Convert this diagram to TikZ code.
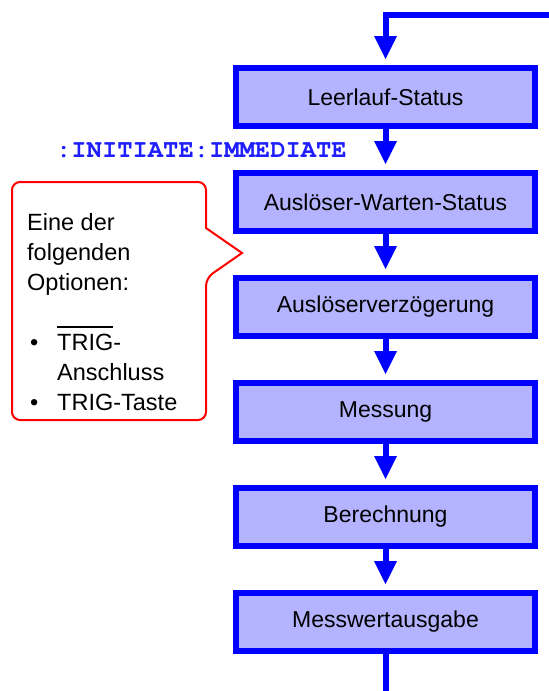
\documentclass[tikz,border=0pt]{standalone}
\usepackage{fontspec}
\setmainfont{Liberation Sans}
\newfontfamily\cmdfont{TeX Gyre Cursor}
\usetikzlibrary{arrows.meta,positioning}

\definecolor{boxfill}{RGB}{179,179,255}
\definecolor{cmdblue}{RGB}{30,30,255}

% bar over a word
\newsavebox\ovlbox
\newcommand{\ovltext}[1]{\sbox\ovlbox{#1}\rlap{\rule[22pt]{\wd\ovlbox}{1.8pt}}\usebox\ovlbox}
\newcommand{\bul}{\makebox[30pt][l]{\hspace{3pt}\textbullet}}

\begin{document}
\begin{tikzpicture}[x=1pt,y=-1pt,>={Triangle[width=23pt,length=23pt,line width=0pt]},
    state/.style={draw=blue,line width=6pt,fill=boxfill,minimum width=299pt,minimum height=58pt,
        inner sep=0pt,font=\fontsize{23}{28}\selectfont},
    flow/.style={->,blue,line width=6pt,line join=miter,shorten >=6pt}]
    \useasboundingbox (0,0) rectangle (549,691);

    % States
    \node[state] (idle) at (385.5,97) {Leerlauf-Status};
    \node[state,below=41pt of idle] (wait) {Auslöser-Warten-Status};
    \node[state,below=41pt of wait] (delay) {Auslöserverzögerung};
    \node[state,below=41pt of delay] (meas) {Messung};
    \node[state,below=41pt of meas] (calc) {Berechnung};
    \node[state,below=41pt of calc] (result) {Messwertausgabe};

    % Flow
    \coordinate (feed) at (549,15);
    \coordinate (out) at (385.5,691);
    \draw[flow] (feed) -- (feed -| idle.north) -- (idle.north);
    \draw[flow] (idle) -- (wait);
    \draw[flow] (wait) -- (delay);
    \draw[flow] (delay) -- (meas);
    \draw[flow] (meas) -- (calc);
    \draw[flow] (calc) -- (result);
    \draw[blue,line width=6pt] (result.south) -- (out);

    % Command
    \node[anchor=base east,inner sep=0pt,text=cmdblue,
        font=\cmdfont\fontsize{25.5}{28}\bfseries\selectfont] (cmd) at (347,157) {:INITIATE:IMMEDIATE};

    % Callout
    \draw[red,line width=2pt,fill=white,rounded corners=8pt] (206,228) -- (206,182) -- (12,182)
        -- (12,420) -- (206,420) -- (206,278) [sharp corners] -- (242,253) -- cycle;
    \node[anchor=north west,inner sep=0pt,align=left,font=\fontsize{23.5}{30}\selectfont] (note) at (27,213)
        {Eine der\\folgenden\\Optionen:\\[30pt]\bul\ovltext{TRIG}-\\\hspace*{30pt}Anschluss\\\bul TRIG-Taste};
\end{tikzpicture}
\end{document}
